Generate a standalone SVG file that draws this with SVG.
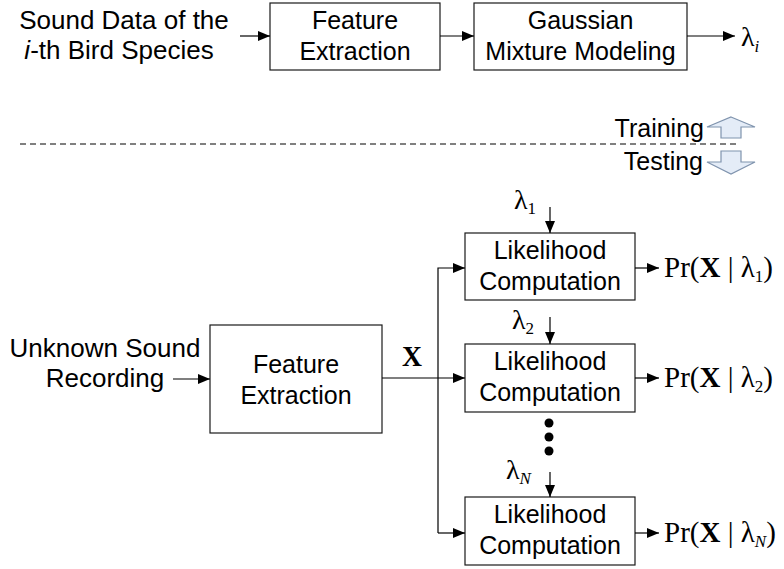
<svg xmlns="http://www.w3.org/2000/svg" width="784" height="569" viewBox="0 0 784 569">
  <style>
    .box { fill: #ffffff; stroke: #1a1a1a; stroke-width: 1.2; }
    .wire { fill: none; stroke: #000000; stroke-width: 1.2; }
    .lbl { font-family: "Liberation Sans", Arial, sans-serif; font-size: 25px; fill: #000000; }
    .out { font-family: "Liberation Sans", Arial, sans-serif; font-size: 26px; fill: #000000; }
    .math { font-family: "Liberation Serif", "Times New Roman", serif; font-size: 29px; fill: #000000; }
    .lam { font-size: 28px; }
    .sub { font-size: 17px; }
    .it { font-style: italic; }
    .bf { font-weight: bold; }
    .blk { fill: #e4ecf7; stroke: #7f93ad; stroke-width: 1.2; stroke-linejoin: miter; }
  </style>
  <defs>
    <marker id="arr" viewBox="0 0 12 10" refX="12" refY="5" markerWidth="12" markerHeight="10" markerUnits="userSpaceOnUse" orient="auto">
      <path d="M0,0 L12,5 L0,10 Z" fill="#000000"/>
    </marker>
  </defs>

  <!-- training pipeline -->
  <g id="train-input">
    <text class="out" x="124" y="29" text-anchor="middle">Sound Data of the</text>
    <text class="out" x="119" y="59" text-anchor="middle"><tspan class="it">i</tspan>-th Bird Species</text>
  </g>
  <g id="train-feature">
    <rect class="box" x="270" y="3" width="170" height="67"/>
    <text class="lbl" x="355" y="29" text-anchor="middle">Feature</text>
    <text class="lbl" x="355" y="60" text-anchor="middle">Extraction</text>
  </g>
  <g id="train-gmm">
    <rect class="box" x="474" y="3" width="213" height="67"/>
    <text class="lbl" x="580.5" y="29" text-anchor="middle">Gaussian</text>
    <text class="lbl" x="580.5" y="60" text-anchor="middle">Mixture Modeling</text>
  </g>
  <g id="train-model">
    <text class="math lam" x="741" y="46">λ<tspan class="sub it" dy="6">i</tspan></text>
  </g>

  <!-- phase separator -->
  <g id="phase">
    <line x1="20" y1="144" x2="739" y2="144" stroke="#000000" stroke-width="1" stroke-dasharray="6,4"/>
    <text class="lbl" x="704" y="137" text-anchor="end">Training</text>
    <polygon class="blk" points="731,117 755,127 741,127 741,138 721,138 721,127 707,127"/>
    <text class="lbl" x="703" y="170" text-anchor="end">Testing</text>
    <polygon class="blk" points="721,151 741,151 741,162 755,162 731,174 707,162 721,162"/>
  </g>

  <!-- testing pipeline -->
  <g id="test-input">
    <text class="out" x="105" y="357" text-anchor="middle">Unknown Sound</text>
    <text class="out" x="105" y="387" text-anchor="middle">Recording</text>
  </g>
  <g id="test-feature">
    <rect class="box" x="210" y="325" width="172" height="108"/>
    <text class="lbl" x="296" y="373" text-anchor="middle">Feature</text>
    <text class="lbl" x="296" y="404" text-anchor="middle">Extraction</text>
  </g>
  <g id="feature-vector">
    <text class="math bf" x="412" y="366" text-anchor="middle" font-size="22" textLength="20" lengthAdjust="spacingAndGlyphs">X</text>
  </g>

  <g id="lik-1">
    <rect class="box" x="465" y="233" width="170" height="67"/>
    <text class="lbl" x="550" y="259" text-anchor="middle">Likelihood</text>
    <text class="lbl" x="550" y="290" text-anchor="middle">Computation</text>
    <text class="math lam" x="514" y="209">λ<tspan class="sub" dy="5">1</tspan></text>
    <text class="math" x="664" y="277">Pr(<tspan class="bf">X</tspan> | λ<tspan class="sub" dy="5">1</tspan><tspan dy="-5">)</tspan></text>
  </g>
  <g id="lik-2">
    <rect class="box" x="465" y="344" width="170" height="68"/>
    <text class="lbl" x="550" y="370" text-anchor="middle">Likelihood</text>
    <text class="lbl" x="550" y="401" text-anchor="middle">Computation</text>
    <text class="math lam" x="512" y="329">λ<tspan class="sub" dy="5">2</tspan></text>
    <text class="math" x="664" y="387">Pr(<tspan class="bf">X</tspan> | λ<tspan class="sub" dy="5">2</tspan><tspan dy="-5">)</tspan></text>
  </g>
  <g id="ellipsis">
    <circle cx="549" cy="423" r="4.5" fill="#000000"/>
    <circle cx="549" cy="437" r="4.5" fill="#000000"/>
    <circle cx="549" cy="451" r="4.5" fill="#000000"/>
  </g>
  <g id="lik-N">
    <rect class="box" x="465" y="497" width="170" height="68"/>
    <text class="lbl" x="550" y="523" text-anchor="middle">Likelihood</text>
    <text class="lbl" x="550" y="554" text-anchor="middle">Computation</text>
    <text class="math lam" x="506" y="479">λ<tspan class="sub it" dy="5">N</tspan></text>
    <text class="math" x="664" y="542">Pr(<tspan class="bf">X</tspan> | λ<tspan class="sub it" dy="5">N</tspan><tspan dy="-5">)</tspan></text>
  </g>

  <!-- connectors -->
  <g id="connectors" class="wire">
    <line x1="240" y1="36" x2="270" y2="36" marker-end="url(#arr)"/>
    <line x1="440" y1="36" x2="474" y2="36" marker-end="url(#arr)"/>
    <line x1="687" y1="36" x2="735" y2="36" marker-end="url(#arr)"/>

    <line x1="173" y1="379" x2="210" y2="379" marker-end="url(#arr)"/>
    <line x1="382" y1="378" x2="465" y2="378" marker-end="url(#arr)"/>
    <polyline points="438,533 438,268 465,268" marker-end="url(#arr)"/>
    <line x1="438" y1="533" x2="465" y2="533" marker-end="url(#arr)"/>

    <line x1="550" y1="207" x2="550" y2="233" marker-end="url(#arr)"/>
    <line x1="550" y1="317" x2="550" y2="344" marker-end="url(#arr)"/>
    <line x1="550" y1="472" x2="550" y2="497" marker-end="url(#arr)"/>

    <line x1="635" y1="268" x2="659" y2="268" marker-end="url(#arr)"/>
    <line x1="635" y1="378" x2="659" y2="378" marker-end="url(#arr)"/>
    <line x1="635" y1="533" x2="659" y2="533" marker-end="url(#arr)"/>
  </g>
</svg>
